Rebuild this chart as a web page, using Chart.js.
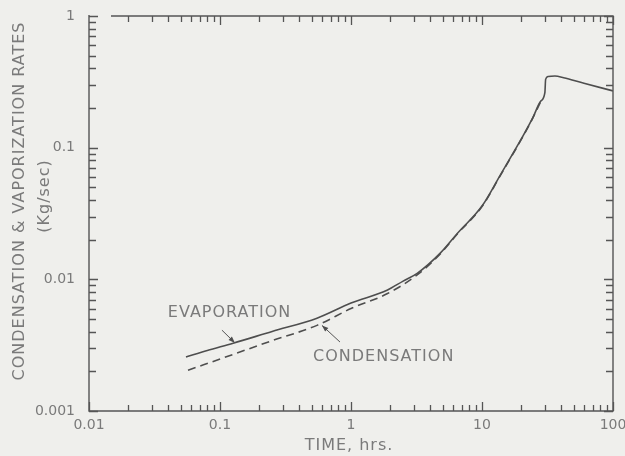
<!DOCTYPE html>
<html>
<head>
<meta charset="utf-8">
<title>Condensation and vaporization rates</title>
<script src="https://cdn.jsdelivr.net/npm/chart.js@4/dist/chart.umd.min.js"></script>
<style>
  html, body { margin: 0; padding: 0; background: #efefec; }
  #wrap { width: 625px; height: 456px; }
</style>
</head>
<body>
<div id="wrap"><canvas id="rates" width="625" height="456"></canvas></div>
<script>
// time in hours, rates in kg/sec
var evapTime = [0.055, 0.08, 0.126, 0.25, 0.55, 1.0, 1.9, 2.5, 3.2, 4.8, 6.5, 10, 14, 20, 24.5, 28, 30.2, 30.6, 32, 36, 42, 60, 100];
var evapRate = [0.00257, 0.00288, 0.00327, 0.00402, 0.00507, 0.0066, 0.0083, 0.0097, 0.0111, 0.0158, 0.0224, 0.036, 0.0635, 0.117, 0.17, 0.225, 0.262, 0.33, 0.347, 0.35, 0.34, 0.308, 0.27];

var condTime = [0.057, 0.126, 0.25, 0.55, 1.0, 1.9, 3.2, 4.8, 6.5, 10, 14, 20, 24.5, 28];
var condRate = [0.00204, 0.00269, 0.00342, 0.00447, 0.0060, 0.0078, 0.0108, 0.0156, 0.0222, 0.0357, 0.063, 0.116, 0.169, 0.223];

var xTickLabels = ['0.01', '0.1', '1', '10', '100'];
var yTickLabels = ['0.001', '0.01', '0.1', '1'];

var ink = '#4e4e4e';
var lettering = '#7a7a7a';
var letterFont = '16px "DejaVu Sans"';

function toPoints(xs, ys) {
    var pts = [];
    for (var i = 0; i < xs.length; i++) pts.push({x: xs[i], y: ys[i]});
    return pts;
}

function decade(v) {
    var e = Math.log10(v);
    var r = Math.round(e);
    return Math.abs(e - r) < 1e-6 ? r : null;
}

// 1..9 times each power of ten from 10^lo up to 10^hi
function logSteps(lo, hi) {
    var out = [];
    for (var e = lo; e <= hi; e++) {
        for (var m = 1; m <= 9; m++) {
            if (e === hi && m > 1) break;
            out.push({v: m * Math.pow(10, e), major: m === 1});
        }
    }
    return out;
}

// labels drawn on the plot, placed in data units
var notes = [
    {text: 'EVAPORATION', x: 0.040, y: 0.0056, from: [0.1035, 0.00411], to: [0.130, 0.00329]},
    {text: 'CONDENSATION', x: 0.513, y: 0.00257, from: [0.824, 0.00334], to: [0.60, 0.00447]}
];

function arrow(ctx, x1, y1, x2, y2) {
    var a = Math.atan2(y2 - y1, x2 - x1);
    ctx.beginPath();
    ctx.moveTo(x1, y1);
    ctx.lineTo(x2, y2);
    ctx.stroke();
    ctx.beginPath();
    ctx.moveTo(x2, y2);
    ctx.lineTo(x2 - 7 * Math.cos(a - 0.35), y2 - 7 * Math.sin(a - 0.35));
    ctx.lineTo(x2 - 7 * Math.cos(a + 0.35), y2 - 7 * Math.sin(a + 0.35));
    ctx.closePath();
    ctx.fill();
}

var paper = {
    id: 'paper',
    beforeDraw: function(chart) {
        var ctx = chart.ctx;
        ctx.save();
        ctx.fillStyle = '#efefec';
        ctx.fillRect(0, 0, chart.width, chart.height);
        ctx.restore();
    },
    afterDraw: function(chart) {
        var ctx = chart.ctx, a = chart.chartArea;
        var xs = chart.scales.x, ys = chart.scales.y;
        ctx.save();
        ctx.setLineDash([]);
        ctx.strokeStyle = '#555555';
        ctx.fillStyle = ink;
        ctx.lineWidth = 1.4;

        // frame (top rule starts a little right of the corner)
        ctx.beginPath();
        ctx.moveTo(a.left, a.top - 1);
        ctx.lineTo(a.left, a.bottom);
        ctx.lineTo(a.right, a.bottom);
        ctx.lineTo(a.right, a.top);
        ctx.lineTo(a.left + 22, a.top);
        ctx.stroke();

        // inward ticks on all four sides
        ctx.lineWidth = 1.3;
        logSteps(-2, 2).forEach(function(t) {
            var px = Math.round(xs.getPixelForValue(t.v)) + 0.5;
            var len = t.major ? 9 : 6;
            ctx.beginPath();
            ctx.moveTo(px, a.bottom);
            ctx.lineTo(px, a.bottom - len);
            if (px > a.left + 22) {
                ctx.moveTo(px, a.top);
                ctx.lineTo(px, a.top + len);
            }
            ctx.stroke();
        });
        logSteps(-3, 0).forEach(function(t) {
            var py = Math.round(ys.getPixelForValue(t.v)) + 0.5;
            var len = t.major ? 9 : 7;
            ctx.beginPath();
            ctx.moveTo(a.left, py);
            ctx.lineTo(a.left + len, py);
            ctx.moveTo(a.right, py);
            ctx.lineTo(a.right - len, py);
            ctx.stroke();
        });

        // curve labels and pointers
        ctx.font = letterFont;
        ctx.letterSpacing = '1px';
        ctx.textBaseline = 'middle';
        ctx.textAlign = 'left';
        notes.forEach(function(n) {
            ctx.fillStyle = lettering;
            ctx.fillText(n.text, xs.getPixelForValue(n.x), ys.getPixelForValue(n.y));
            ctx.fillStyle = ink;
            ctx.lineWidth = 1;
            arrow(ctx, xs.getPixelForValue(n.from[0]), ys.getPixelForValue(n.from[1]),
                  xs.getPixelForValue(n.to[0]), ys.getPixelForValue(n.to[1]));
        });

        // axis titles
        ctx.fillStyle = lettering;
        ctx.textAlign = 'center';
        ctx.fillText('TIME, hrs.', 349, 446);
        ctx.translate(20, 201);
        ctx.rotate(-Math.PI / 2);
        ctx.fillText('CONDENSATION & VAPORIZATION RATES', 0, 0);
        ctx.fillText('(Kg/sec)', 5, 25);
        ctx.restore();
    }
};

var rates = document.getElementById('rates').getContext('2d');
new Chart(rates, {
    type: 'scatter',
    data: {
        datasets: [
            {
                label: 'EVAPORATION',
                data: toPoints(evapTime, evapRate),
                showLine: true,
                borderColor: ink,
                borderWidth: 1.6,
                pointRadius: 0,
                cubicInterpolationMode: 'monotone'
            },
            {
                label: 'CONDENSATION',
                data: toPoints(condTime, condRate),
                showLine: true,
                borderColor: ink,
                borderWidth: 1.6,
                borderDash: [8, 5],
                pointRadius: 0,
                cubicInterpolationMode: 'monotone'
            }
        ]
    },
    options: {
        responsive: false,
        animation: false,
        layout: {padding: {left: 0, top: 16, right: 12, bottom: 0}},
        plugins: {legend: {display: false}, tooltip: {enabled: false}},
        scales: {
            x: {
                type: 'logarithmic',
                min: 0.01,
                max: 100,
                grid: {display: false, drawTicks: false},
                border: {display: false},
                ticks: {
                    autoSkip: false,
                    maxRotation: 0,
                    padding: 6,
                    color: lettering,
                    font: {family: 'DejaVu Sans', size: 14},
                    callback: function(v) {
                        var d = decade(v);
                        return d === null ? '' : xTickLabels[d + 2];
                    }
                },
                afterFit: function(s) { s.height = 45; s.paddingLeft = 0; s.paddingRight = 0; }
            },
            y: {
                type: 'logarithmic',
                min: 0.001,
                max: 1,
                grid: {display: false, drawTicks: false},
                border: {display: false},
                ticks: {
                    autoSkip: false,
                    padding: 14,
                    color: lettering,
                    font: {family: 'DejaVu Sans', size: 14},
                    callback: function(v) {
                        var d = decade(v);
                        return d === null ? '' : yTickLabels[d + 3];
                    }
                },
                afterFit: function(s) { s.width = 89; s.paddingTop = 0; s.paddingBottom = 0; }
            }
        }
    },
    plugins: [paper]
});
</script>
</body>
</html>
